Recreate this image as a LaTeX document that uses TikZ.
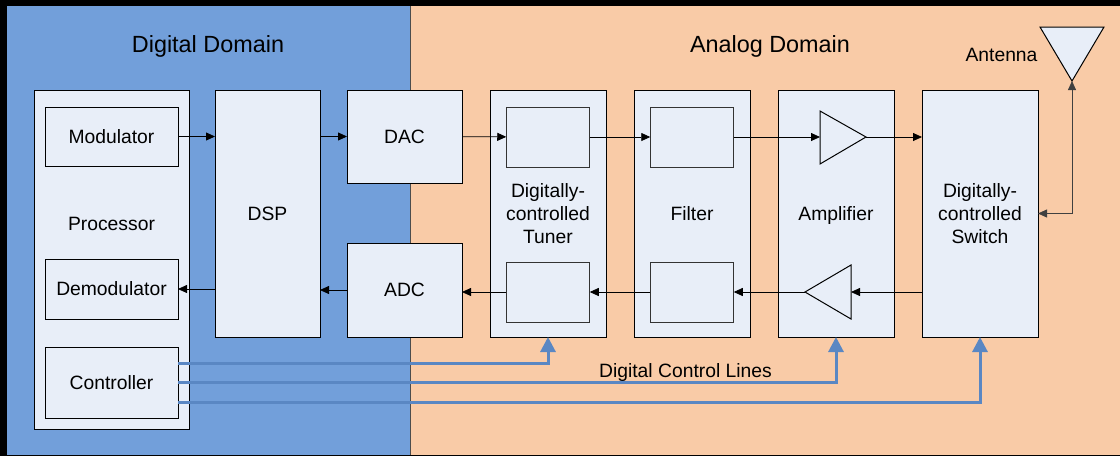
\documentclass[tikz,border=0pt]{standalone}
\usepackage{fontspec}
\setmainfont{Liberation Sans}
\usetikzlibrary{arrows.meta}
\definecolor{digbg}{RGB}{114,159,218}
\definecolor{anabg}{RGB}{249,203,167}
\definecolor{boxbg}{RGB}{232,238,248}
\definecolor{ctlblue}{RGB}{90,135,195}

\begin{document}
\begin{tikzpicture}
        [x=1pt, y=-1pt,
         block/.style={draw=black, fill=boxbg, line width=1pt, inner sep=0pt, outer sep=0pt, align=center, font=\fontsize{19.3}{22.8}\selectfont},
         inbox/.style={draw=black!80, fill=boxbg, line width=1pt, inner sep=0pt, outer sep=0pt, minimum width=83.5pt, minimum height=60pt},
         domlabel/.style={anchor=base, font=\fontsize{23.4}{28}\selectfont},
         txt/.style={anchor=base, font=\fontsize{19.3}{22.8}\selectfont},
         sig/.style={-{Triangle[length=9pt,width=8pt]}, line width=0.8pt},
         bisig/.style={{Triangle[length=9pt,width=8pt]}-{Triangle[length=9pt,width=8pt]}, line width=0.8pt, draw=black!75},
         ctl/.style={draw=ctlblue, line width=3pt, -{Triangle[length=15pt,width=15pt]}},
         tri/.style={draw=black, fill=boxbg, line width=1pt}]
        % domains
        \fill[black] (0,0) rectangle (1120,456);
        \fill[anabg] (7,6) rectangle (1120,454.5);
        \fill[digbg] (7,6) rectangle (410,454.5);
        \draw[black!70, line width=0.8pt] (410,6) -- (410,454.5);
        \useasboundingbox (0,0) rectangle (1120,456);
        \node (diglbl) at (208,52) [domlabel] {Digital Domain};
        \node (analbl) at (770,52) [domlabel] {Analog Domain};
        % blocks
        \path node (proc) at (111.5,259.5) [block, minimum width=155pt, minimum height=339pt] {}
              node (mod) at (111.5,136.5) [block, minimum width=133pt, minimum height=59pt] {Modulator}
              node (demod) at (111.5,289) [block, minimum width=133pt, minimum height=60pt] {Demodulator}
              node (ctrl) at (111.5,382.5) [block, minimum width=133pt, minimum height=71pt] {Controller}
              node (dsp) at (267.5,213.5) [block, minimum width=105pt, minimum height=247pt] {DSP}
              node (dac) at (404.5,136.5) [block, minimum width=115pt, minimum height=93pt] {DAC}
              node (adc) at (404.5,290) [block, minimum width=115pt, minimum height=94pt] {ADC}
              node (tun) at (548,213.5) [block, minimum width=116pt, minimum height=247pt] {Digitally-\\controlled\\Tuner}
              node (fil) at (692,213.5) [block, minimum width=116pt, minimum height=247pt] {Filter}
              node (amp) at (836,213.5) [block, minimum width=116pt, minimum height=247pt, text depth=0pt] {Amplifier}
              node (sw) at (980,213.5) [block, minimum width=116pt, minimum height=247pt] {Digitally-\\controlled\\Switch};
        \node (proclbl) at (111.5,230) [txt] {Processor};
        \foreach \n/\x in {tun/548, fil/692}
          \path node (\n-tx) at (\x,137) [inbox] {}
                node (\n-rx) at (\x,292) [inbox] {};
        % amplifier stages and antenna
        \draw[tri] (820,111) -- (866,137) -- (820,164) -- cycle;
        \draw[tri] (851,265) -- (805,292) -- (851,319) -- cycle;
        \draw[tri] (1040,27) -- (1104,27) -- (1072,81) -- cycle;
        \coordinate (pa-in) at (820,137);
        \coordinate (pa-out) at (866,137);
        \coordinate (lna-in) at (851,292);
        \coordinate (lna-out) at (805,292);
        \coordinate (ant) at (1072,81);
        \node (antlbl) at (1001.5,61) [txt] {Antenna};
        % transmit path
        \draw[sig] (mod) -- (mod -| dsp.west);
        \draw[sig] (dsp.east |- dac) -- (dac);
        \draw[sig] (dac) -- (tun-tx);
        \draw[sig] (tun-tx) -- (fil-tx);
        \draw[sig] (fil-tx) -- (pa-in);
        \draw[sig] (pa-out) -- (pa-out -| sw.west);
        % receive path
        \draw[sig] (lna-in -| sw.west) -- (lna-in);
        \draw[sig] (lna-out) -- (fil-rx);
        \draw[sig] (fil-rx) -- (tun-rx);
        \draw[sig] (tun-rx) -- (tun-rx -| adc.east);
        \draw[sig] (adc) -- (adc -| dsp.east);
        \draw[sig] (demod -| dsp.west) -- (demod);
        \draw[bisig] (ant) |- (sw.east);
        % control lines
        \draw[ctl] ([yshift=19.5pt]ctrl.east) -| (tun.south);
        \draw[ctl] (ctrl.east) -| (amp.south);
        \draw[ctl] ([yshift=-19.5pt]ctrl.east) -| (sw.south);
        \node (ctllbl) at (685.5,377) [txt] {Digital Control Lines};
      \end{tikzpicture}
\end{document}
